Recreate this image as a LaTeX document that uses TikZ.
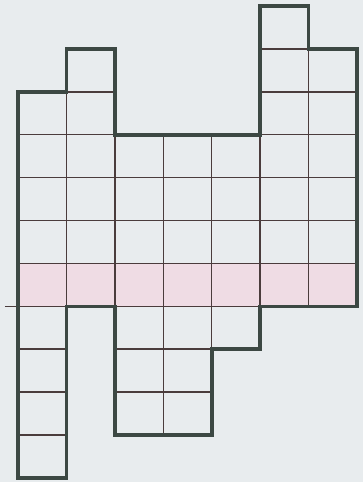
\documentclass[tikz,border=0pt]{standalone}
\usepackage{xcolor}
\usepackage{tikz}
\definecolor{paper}{HTML}{E8ECEE}
\definecolor{pinkrow}{HTML}{EFDCE4}
\definecolor{outlinecol}{HTML}{3C4843}
\definecolor{gridcol}{HTML}{4A3C3C}

\begin{document}
\begin{tikzpicture}[
  x=48.43pt, y=-42.9pt,
  cellline/.style={draw=gridcol, line width=1.5pt},
  outline/.style={draw=outlinecol, line width=3.6pt, line join=miter},
  band/.style={fill=pinkrow}
]
  % Paper
  \useasboundingbox[fill=paper] (-0.3717,-0.1399) rectangle (7.1237,11.0956);

  % Pink row
  \fill[band] (0,6) rectangle (7,7);

  % Cells: column / top row / bottom row
  \foreach \c/\t/\b in {0/2/11, 1/1/7, 2/3/10, 3/3/10, 4/3/8, 5/0/7, 6/1/7}{
    \pgfmathtruncatemacro{\last}{\b-1}
    \foreach \r in {\t,...,\last}{
      \draw[cellline] (\c,\r) rectangle ++(1,1);
    }
  }

  % Stray line to the left
  \draw[cellline] (-0.27,7) -- (0,7);

  % Outer edge
  \draw[outline] (0,2) -- (1,2) -- (1,1) -- (2,1) -- (2,3) -- (5,3) -- (5,0)
    -- (6,0) -- (6,1) -- (7,1) -- (7,7) -- (5,7) -- (5,8) -- (4,8) -- (4,10)
    -- (2,10) -- (2,7) -- (1,7) -- (1,11) -- (0,11) -- cycle;
\end{tikzpicture}
\end{document}
